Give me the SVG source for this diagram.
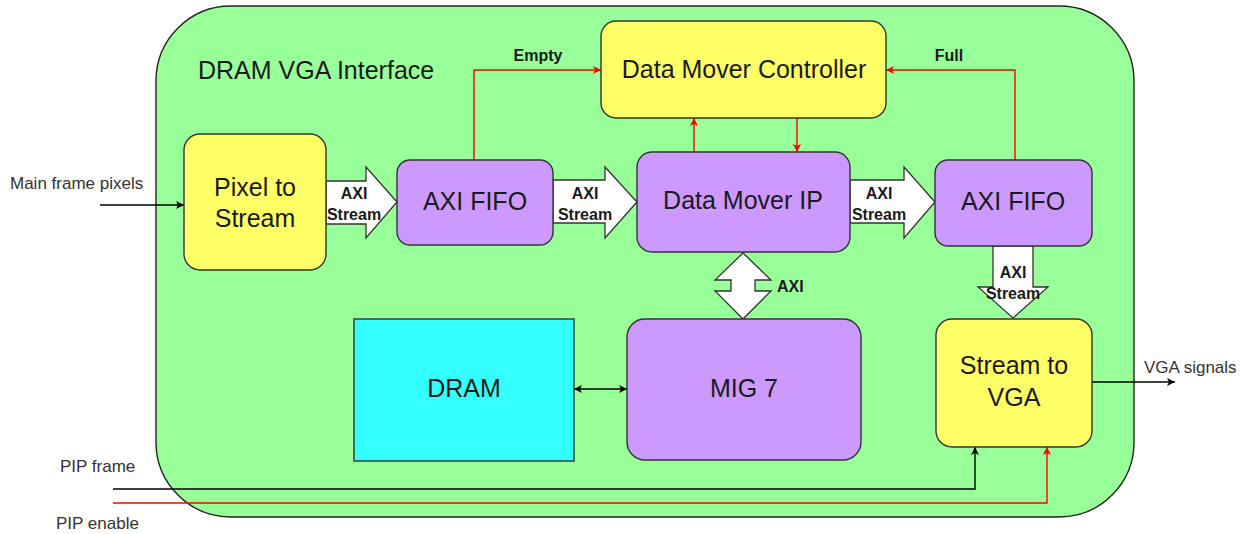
<svg xmlns="http://www.w3.org/2000/svg" width="1245" height="534" viewBox="0 0 1245 534">
<style>
.box{stroke:#333;stroke-width:1.4}
.yellow{fill:#ffff66}
.purple{fill:#cc99ff}
.cyan{fill:#33ffff}
.big{font-family:"Liberation Sans",Arial,sans-serif;font-size:25px;fill:#1a1a1a;text-anchor:middle}
.lbl{font-family:"Liberation Sans",Arial,sans-serif;font-size:16px;font-weight:bold;fill:#1a1a1a;text-anchor:middle}
.ext{font-family:"Liberation Sans",Arial,sans-serif;font-size:17px;fill:#333}
.fat{fill:#fff;stroke:#333;stroke-width:1.3}
.blk{fill:none;stroke:#000;stroke-width:1.4}
.red{fill:none;stroke:#ff0000;stroke-width:1.4}
</style>
<defs>
<marker id="ab" viewBox="0 0 10 10" refX="10" refY="5" markerWidth="8" markerHeight="8" markerUnits="userSpaceOnUse" orient="auto-start-reverse"><path d="M0,0 L10,5 L0,10 L2.5,5 z" fill="#000"/></marker>
<marker id="ar" viewBox="0 0 10 10" refX="10" refY="5" markerWidth="8" markerHeight="8" markerUnits="userSpaceOnUse" orient="auto-start-reverse"><path d="M0,0 L10,5 L0,10 L2.5,5 z" fill="#ff0000"/></marker>
</defs>
<g id="container">
<rect x="156" y="6" width="978" height="511" rx="75" ry="75" fill="#99ff99" stroke="#222" stroke-width="1.4"/>
<text x="198" y="79" class="big" style="text-anchor:start">DRAM VGA Interface</text>
</g>
<g id="connectors">
<path class="blk" d="M100,205 L184,205" marker-end="url(#ab)"/>
<path class="blk" d="M1092,382 L1175,382" marker-end="url(#ab)"/>
<path class="blk" d="M574,389 L627,389" marker-start="url(#ab)" marker-end="url(#ab)"/>
<path class="blk" d="M113,489 L975,489 L975,447" marker-end="url(#ab)"/>
<path class="red" d="M113,503 L1047,503 L1047,447" marker-end="url(#ar)"/>
<path class="red" d="M474,160 L474,70 L601,70" marker-end="url(#ar)"/>
<path class="red" d="M1015,160 L1015,70 L886,70" marker-end="url(#ar)"/>
<path class="red" d="M694,152 L694,118" marker-end="url(#ar)"/>
<path class="red" d="M797,118 L797,152" marker-end="url(#ar)"/>
<path class="fat" d="M326,181 L366,181 L366,167 L397,202 L366,238 L366,224 L326,224 Z"/>
<path class="fat" d="M553,180 L605,180 L605,167 L637,202 L605,238 L605,223 L553,223 Z"/>
<path class="fat" d="M850,180 L904,180 L904,167 L935,202 L904,238 L904,223 L850,223 Z"/>
<path class="fat" d="M993,246 L1033,246 L1033,287 L1048,287 L1013,318 L978,287 L993,287 Z"/>
<path class="fat" d="M743,253 L771,280 L755,280 L755,291 L771,291 L743,319 L715,291 L731,291 L731,280 L715,280 Z"/>
<text class="lbl" x="354" y="199">AXI</text><text class="lbl" x="354" y="220">Stream</text>
<text class="lbl" x="585" y="199">AXI</text><text class="lbl" x="585" y="220">Stream</text>
<text class="lbl" x="879" y="199">AXI</text><text class="lbl" x="879" y="220">Stream</text>
<text class="lbl" x="1013" y="278">AXI</text><text class="lbl" x="1013" y="299">Stream</text>
<text class="lbl" x="777" y="292" style="text-anchor:start">AXI</text>
<text class="lbl" x="538" y="61">Empty</text>
<text class="lbl" x="949" y="61">Full</text>
<text class="ext" x="10" y="189">Main frame pixels</text>
<text class="ext" x="1144" y="373">VGA signals</text>
<text class="ext" x="60" y="472">PIP frame</text>
<text class="ext" x="56" y="529">PIP enable</text>
</g>
<g id="pixel-to-stream">
<rect class="box yellow" x="184" y="134" width="142" height="136" rx="16"/>
<text class="big" x="255" y="196">Pixel to</text><text class="big" x="255" y="227">Stream</text>
</g>
<g id="axi-fifo-1">
<rect class="box purple" x="397" y="160" width="156" height="85" rx="13"/>
<text class="big" x="475" y="210">AXI FIFO</text>
</g>
<g id="data-mover-controller">
<rect class="box yellow" x="601" y="21" width="285" height="97" rx="15"/>
<text class="big" x="744" y="78">Data Mover Controller</text>
</g>
<g id="data-mover-ip">
<rect class="box purple" x="637" y="152" width="213" height="100" rx="15"/>
<text class="big" x="743" y="209">Data Mover IP</text>
</g>
<g id="axi-fifo-2">
<rect class="box purple" x="935" y="160" width="157" height="86" rx="13"/>
<text class="big" x="1013" y="210">AXI FIFO</text>
</g>
<g id="stream-to-vga">
<rect class="box yellow" x="936" y="319" width="156" height="128" rx="16"/>
<text class="big" x="1014" y="374">Stream to</text><text class="big" x="1014" y="406">VGA</text>
</g>
<g id="dram">
<rect class="box cyan" x="354" y="319" width="220" height="142"/>
<text class="big" x="464" y="397">DRAM</text>
</g>
<g id="mig7">
<rect class="box purple" x="627" y="319" width="234" height="141" rx="18"/>
<text class="big" x="744" y="397">MIG 7</text>
</g>
</svg>
